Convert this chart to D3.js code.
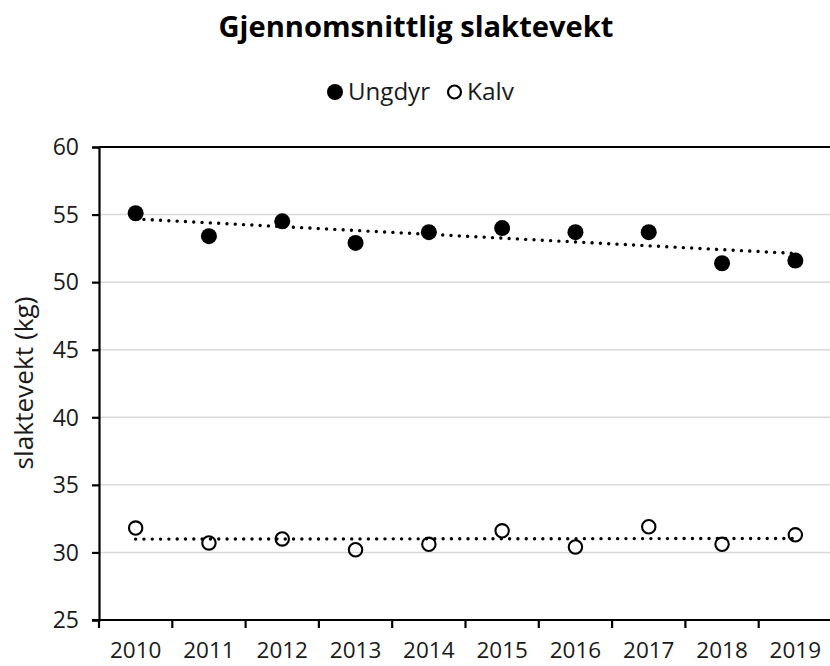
<!DOCTYPE html>
<html>
<head>
<meta charset="utf-8">
<script src="https://cdn.jsdelivr.net/npm/d3@7"></script>
<style>
  html, body { margin: 0; padding: 0; background: #fff; }
  svg { display: block; font-family: "Open Sans", sans-serif; }
</style>
</head>
<body>
<svg id="chart" width="830" height="666"></svg>
<script>
const years = ["2010","2011","2012","2013","2014","2015","2016","2017","2018","2019"];
const ungdyr = [55.1, 53.4, 54.5, 52.9, 53.7, 54.0, 53.7, 53.7, 51.4, 51.6];
const kalv   = [31.8, 30.7, 31.0, 30.2, 30.6, 31.6, 30.4, 31.9, 30.6, 31.3];
const yTicks = [25, 30, 35, 40, 45, 50, 55, 60];
const titleText = "Gjennomsnittlig slaktevekt";
const yTitle = "slaktevekt (kg)";
const seriesNames = ["Ungdyr", "Kalv"];

(function () {
const svg = d3.select("#chart");
const pLeft = 99, pRight = 832, pTop = 147, pBottom = 620;

const x = d3.scaleBand().domain(years).range([pLeft, pRight]).padding(0);
const y = d3.scaleLinear().domain([25, 60]).range([pBottom, pTop]);
const cx = d => x(d) + x.bandwidth() / 2;

// gridlines
svg.append("g").selectAll("line")
  .data(yTicks.filter(t => t > 25 && t < 60))
  .join("line")
  .attr("x1", pLeft).attr("x2", 830)
  .attr("y1", d => y(d)).attr("y2", d => y(d))
  .attr("stroke", "#d9d9d9").attr("stroke-width", 1.5);

// top border
svg.append("line").attr("x1", pLeft).attr("x2", 830)
  .attr("y1", y(60)).attr("y2", y(60))
  .attr("stroke", "#000").attr("stroke-width", 2.2);

// y axis
const yAxis = d3.axisLeft(y).tickValues(yTicks).tickSize(7).tickPadding(13);
const gy = svg.append("g").attr("transform", `translate(${pLeft},0)`).call(yAxis);
gy.select(".domain").attr("stroke", "#000").attr("stroke-width", 2.2);
gy.selectAll(".tick line").attr("stroke", "#000").attr("stroke-width", 2.2);
gy.selectAll(".tick text").attr("font-size", 23).attr("font-family", "Open Sans")
  .attr("fill", "#1a1a1a").attr("dy", "0.34em");

// x axis (ticks at band boundaries)
const gx = svg.append("g").attr("transform", `translate(0,${pBottom})`);
gx.append("line").attr("x1", pLeft - 7).attr("x2", 830).attr("y1", 0).attr("y2", 0)
  .attr("stroke", "#000").attr("stroke-width", 2.2);
gx.selectAll("line.tk").data(years).join("line").attr("class", "tk")
  .attr("x1", d => x(d)).attr("x2", d => x(d)).attr("y1", 0).attr("y2", 8)
  .attr("stroke", "#000").attr("stroke-width", 2.2);
gx.selectAll("text").data(years).join("text")
  .attr("x", d => cx(d)).attr("y", 38)
  .attr("text-anchor", "middle").attr("font-size", 22.5)
  .attr("fill", "#1a1a1a").text(d => d);

// markers
svg.append("g").selectAll("circle").data(years).join("circle")
  .attr("cx", d => cx(d)).attr("cy", (d, i) => y(ungdyr[i])).attr("r", 8)
  .attr("fill", "#000");
svg.append("g").selectAll("circle").data(years).join("circle")
  .attr("cx", d => cx(d)).attr("cy", (d, i) => y(kalv[i])).attr("r", 6.7)
  .attr("fill", "none").attr("stroke", "#000").attr("stroke-width", 2.1);

// linear trendlines (least squares fit of the data)
function fit(vals) {
  const n = vals.length, xs = d3.range(n);
  const mx = d3.mean(xs), my = d3.mean(vals);
  const b = d3.sum(xs, i => (i - mx) * (vals[i] - my)) / d3.sum(xs, i => (i - mx) ** 2);
  const a = my - b * mx;
  return [[0, a], [n - 1, a + b * (n - 1)]];
}
[ungdyr, kalv].forEach(vals => {
  const pts = fit(vals);
  svg.append("line")
    .attr("x1", cx(years[pts[0][0]])).attr("y1", y(pts[0][1]))
    .attr("x2", cx(years[pts[1][0]])).attr("y2", y(pts[1][1]))
    .attr("stroke", "#000").attr("stroke-width", 3.4)
    .attr("stroke-linecap", "round").attr("stroke-dasharray", "0.01 8.3");
});

// title
svg.append("text").attr("x", 416).attr("y", 37).attr("text-anchor", "middle")
  .attr("font-size", 28).attr("font-weight", "bold").attr("fill", "#000")
  .attr("textLength", 395).attr("lengthAdjust", "spacingAndGlyphs")
  .text(titleText);

// y axis title
svg.append("text").attr("transform", "translate(33,383) rotate(-90)")
  .attr("text-anchor", "middle").attr("font-size", 25).attr("fill", "#1a1a1a")
  .attr("textLength", 173).attr("lengthAdjust", "spacingAndGlyphs")
  .text(yTitle);

// legend
const lg = svg.append("g");
lg.append("circle").attr("cx", 335).attr("cy", 92).attr("r", 8).attr("fill", "#000");
lg.append("text").attr("x", 348).attr("y", 100).attr("font-size", 24).attr("fill", "#1a1a1a")
  .attr("textLength", 82).attr("lengthAdjust", "spacingAndGlyphs").text(seriesNames[0]);
lg.append("circle").attr("cx", 454.5).attr("cy", 92).attr("r", 6.5)
  .attr("fill", "none").attr("stroke", "#000").attr("stroke-width", 2.2);
lg.append("text").attr("x", 467).attr("y", 100).attr("font-size", 24).attr("fill", "#1a1a1a")
  .attr("textLength", 47).attr("lengthAdjust", "spacingAndGlyphs").text(seriesNames[1]);
})();
</script>
</body>
</html>
